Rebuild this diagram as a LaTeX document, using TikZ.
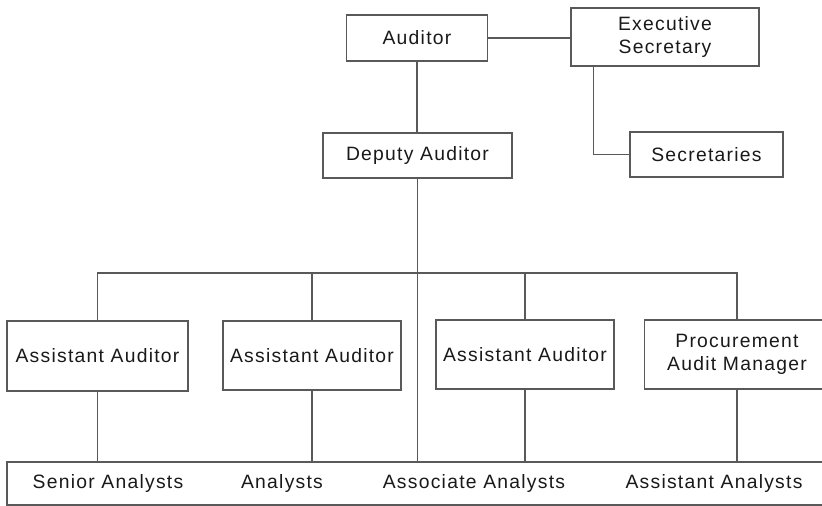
\documentclass[tikz,border=0pt]{standalone}
\usepackage{fontspec}
\setmainfont[LetterSpace=6.5]{Liberation Sans}
\begin{document}
\begin{tikzpicture}[x=0.02cm, y=-0.02cm,
    unit/.style={draw=black!65, line width=0.7pt, inner sep=0pt, align=center, text=black!90,
        font=\fontsize{11}{13}\selectfont},
    plain/.style={inner sep=0pt, text=black!90, font=\fontsize{11}{13}\selectfont},
    link/.style={draw=black!65, line width=0.7pt}]
            \useasboundingbox (0,0) rectangle (822,506);
            \node[unit, minimum width=2.82cm, minimum height=0.92cm] (A) at (417,38) {Auditor};
            \node[unit, minimum width=3.76cm, minimum height=1.16cm] (E) at (665,37) {Executive\\Secretary};
            \node[unit, minimum width=3.78cm, minimum height=0.9cm] (D) at (417.5,155.5) {Deputy Auditor};
            \node[unit, minimum width=3.06cm, minimum height=0.9cm] (S) at (706.5,154.5) {Secretaries};
            \node[unit, minimum width=3.62cm, minimum height=1.4cm] (AA1) at (97.5,356) {Assistant Auditor};
            \node[unit, minimum width=3.56cm, minimum height=1.38cm] (AA2) at (312,355.5) {Assistant Auditor};
            \node[unit, minimum width=3.56cm, minimum height=1.38cm] (AA3) at (525,354.5) {Assistant Auditor};
            \node[unit, minimum width=3.7cm, minimum height=1.38cm] (P) at (737,354.5) {Procurement\\Audit Manager};
            \node[unit, minimum width=16.6cm, minimum height=0.86cm] (T) at (422,483.5) {};
            \node[plain] (T1) at (108,484) {Senior Analysts};
            \node[plain] (T2) at (282,484) {Analysts};
            \node[plain] (T3) at (474,484) {Associate Analysts};
            \node[plain] (T4) at (714,484) {Assistant Analysts};
            \coordinate (bar) at (417,273);
            \draw[link] (A.east) -- (A.east -| E.west);
            \draw[link] ([xshift=0.46cm]E.south west) |- (S.west);
            \draw[link] (A.south) -- (A.south |- D.north);
            \draw[link] (D.south) -- (D.south |- T.north);
            \draw[link] (AA1.north) |- (bar) -| (P.north);
            \draw[link] (AA2.north) -- (AA2.north |- bar);
            \draw[link] (AA3.north) -- (AA3.north |- bar);
            \draw[link] (AA1.south) -- (AA1.south |- T.north);
            \draw[link] (AA2.south) -- (AA2.south |- T.north);
            \draw[link] (AA3.south) -- (AA3.south |- T.north);
            \draw[link] (P.south) -- (P.south |- T.north);
        \end{tikzpicture}
\end{document}
